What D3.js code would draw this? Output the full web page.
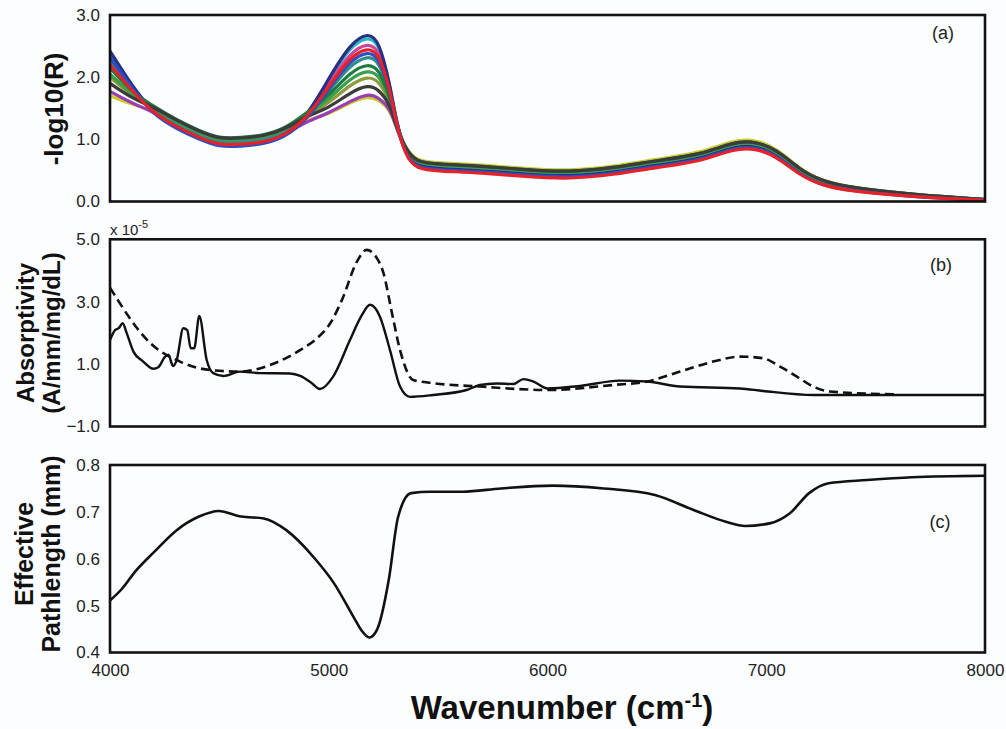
<!DOCTYPE html>
<html><head><meta charset="utf-8">
<script src="https://cdn.jsdelivr.net/npm/d3@7/dist/d3.min.js"></script>
<style>
html,body{margin:0;padding:0;background:#fcfdff;}
svg{display:block;font-family:"Liberation Sans",Arial,sans-serif;}
</style></head><body>
<svg id="chart" width="1006" height="729"></svg>
<script>
// ---------- DATA ----------
const xTicks = [4000, 5000, 6000, 7000, 8000];
const aTicks = [0, 1, 2, 3];
const bTicks = [-1, 1, 3, 5];
const cTicks = [0.4, 0.5, 0.6, 0.7, 0.8];

// Panel (a): wavenumber grid shared by all reflectance spectra
const aWavenumber = [4000,4100,4200,4300,4400,4500,4600,4700,4800,4900,5000,5100,5180,5230,5280,5310,5350,5400,5500,5700,5900,6100,6300,6500,6700,6850,6950,7050,7150,7250,7400,7600,7800,8000];
const spec1  = [1.90,1.66,1.52,1.31,1.14,1.00,1.02,1.05,1.16,1.38,1.50,1.76,1.88,1.80,1.56,1.19,0.85,0.63,0.60,0.57,0.51,0.47,0.54,0.66,0.75,0.96,0.97,0.83,0.52,0.33,0.22,0.14,0.08,0.03];
const spec2  = [2.15,1.76,1.53,1.32,1.15,1.01,1.03,1.06,1.17,1.43,1.70,2.09,2.22,2.13,1.69,1.22,0.85,0.63,0.60,0.57,0.51,0.47,0.54,0.66,0.75,0.96,0.97,0.83,0.52,0.33,0.22,0.14,0.08,0.03];
const spec3  = [1.70,1.56,1.47,1.26,1.09,0.95,0.97,1.00,1.11,1.32,1.40,1.60,1.70,1.63,1.48,1.18,0.87,0.65,0.62,0.59,0.53,0.49,0.56,0.68,0.78,0.99,1.00,0.85,0.53,0.33,0.22,0.14,0.08,0.03];
const spec4  = [1.77,1.58,1.44,1.23,1.06,0.92,0.94,0.97,1.08,1.29,1.42,1.62,1.74,1.67,1.50,1.18,0.80,0.58,0.55,0.52,0.46,0.42,0.49,0.61,0.70,0.91,0.92,0.78,0.47,0.29,0.19,0.12,0.07,0.03];
const spec5  = [2.38,1.84,1.43,1.22,1.05,0.91,0.93,0.96,1.07,1.37,1.95,2.51,2.66,2.55,1.87,1.25,0.81,0.59,0.56,0.53,0.47,0.43,0.50,0.62,0.71,0.92,0.93,0.79,0.48,0.30,0.19,0.12,0.07,0.03];
const spec6  = [2.05,1.72,1.50,1.29,1.12,0.98,1.00,1.03,1.14,1.39,1.64,1.99,2.12,2.04,1.65,1.21,0.83,0.61,0.58,0.55,0.49,0.45,0.52,0.64,0.73,0.94,0.95,0.81,0.50,0.31,0.20,0.13,0.07,0.03];
const spec7  = [2.42,1.86,1.41,1.20,1.03,0.89,0.91,0.94,1.05,1.36,1.98,2.55,2.72,2.59,1.88,1.26,0.78,0.56,0.53,0.50,0.44,0.40,0.47,0.59,0.68,0.89,0.90,0.76,0.46,0.28,0.18,0.11,0.06,0.02];
const spec8  = [2.00,1.70,1.49,1.28,1.11,0.97,0.99,1.02,1.13,1.37,1.58,1.89,2.02,1.94,1.61,1.20,0.84,0.62,0.59,0.56,0.50,0.46,0.53,0.65,0.74,0.95,0.96,0.82,0.51,0.31,0.21,0.13,0.07,0.03];
const spec9  = [2.28,1.80,1.42,1.21,1.04,0.90,0.92,0.95,1.06,1.35,1.89,2.41,2.55,2.45,1.82,1.24,0.77,0.55,0.52,0.49,0.43,0.39,0.46,0.58,0.67,0.88,0.89,0.75,0.45,0.27,0.17,0.11,0.06,0.02];
const spec10 = [2.25,1.79,1.46,1.25,1.08,0.94,0.96,0.99,1.10,1.37,1.77,2.21,2.35,2.26,1.74,1.23,0.82,0.60,0.57,0.54,0.48,0.44,0.51,0.63,0.72,0.93,0.94,0.80,0.49,0.30,0.20,0.12,0.07,0.03];
const spec11 = [2.32,1.82,1.39,1.18,1.01,0.87,0.89,0.92,1.03,1.31,1.81,2.28,2.42,2.32,1.77,1.23,0.76,0.54,0.51,0.48,0.42,0.38,0.45,0.57,0.66,0.87,0.88,0.74,0.44,0.26,0.17,0.10,0.05,0.02];
const spec12 = [2.20,1.78,1.42,1.21,1.04,0.90,0.92,0.95,1.06,1.34,1.85,2.34,2.48,2.38,1.80,1.24,0.74,0.52,0.49,0.46,0.40,0.36,0.43,0.55,0.64,0.85,0.86,0.72,0.43,0.26,0.16,0.10,0.05,0.02];
const aSpectra = [spec3, spec4, spec8, spec5, spec9, spec10, spec7, spec6, spec2, spec1, spec11, spec12];
const aSpectraColors = ["#c8cc2c","#9a3db4","#8f9a3a","#27b5c8","#d0449a","#2f8f86","#2b2f80","#3a9f4a","#1f7a3f","#3b3b3b","#2b4fc6","#e42228"];

// Panel (b): absorptivity (x 1e-5)
const bSolidWn  = [4000,4023,4040,4058,4076,4107,4152,4198,4221,4251,4267,4288,4305,4335,4353,4369,4385,4408,4442,4472,4518,4594,4686,4823,4870,4920,4960,5020,5097,5150,5189,5234,5280,5326,5371,5477,5630,5691,5768,5844,5890,5936,6000,6149,6331,6454,6606,6880,6985,7215,7368,8000];
const bSolidVal = [1.77,2.09,2.15,2.31,2.00,1.40,1.08,0.85,0.90,1.23,1.30,0.94,1.13,2.15,2.09,1.51,1.51,2.54,1.13,0.71,0.62,0.76,0.71,0.70,0.62,0.40,0.20,0.60,1.77,2.55,2.90,2.52,1.45,0.28,-0.05,0.01,0.17,0.33,0.38,0.36,0.52,0.44,0.22,0.30,0.47,0.44,0.28,0.22,0.14,0.01,0.01,0.01];
const bDashWn   = [4000,4183,4320,4457,4594,4731,4869,4950,5006,5060,5130,5173,5215,5250,5290,5326,5386,5477,5691,6000,6300,6454,6606,6757,6880,6985,7063,7140,7215,7291,7600];
const bDashVal  = [3.45,1.68,1.08,0.81,0.76,0.97,1.45,1.85,2.30,3.05,4.30,4.66,4.45,3.92,2.60,1.45,0.49,0.39,0.28,0.17,0.33,0.44,0.76,1.08,1.24,1.19,0.92,0.60,0.28,0.12,0.03];

// Panel (c): effective pathlength (mm)
const cWn  = [4000,4055,4114,4201,4305,4407,4496,4600,4703,4806,4937,5025,5113,5150,5185,5222,5274,5317,5376,5464,5611,5787,6023,6257,6491,6668,6815,6903,7020,7108,7196,7285,7461,7666,8000];
const cVal = [0.511,0.536,0.572,0.614,0.661,0.690,0.702,0.690,0.686,0.661,0.600,0.547,0.476,0.447,0.432,0.450,0.554,0.689,0.740,0.743,0.743,0.750,0.756,0.750,0.736,0.704,0.679,0.670,0.676,0.697,0.740,0.761,0.768,0.774,0.777];

// ---------- DRAW ----------
const svg = d3.select("#chart");
const L = 110, R = 985;
const x = d3.scaleLinear().domain([4000, 8000]).range([L, R]);
const panels = [
  {top: 15,  bottom: 201.5, dom: [0, 3]},
  {top: 239.3, bottom: 426.5, dom: [-1, 5]},
  {top: 465, bottom: 652.5, dom: [0.4, 0.8]}
];
const ya = d3.scaleLinear().domain(panels[0].dom).range([panels[0].bottom, panels[0].top]);
const yb = d3.scaleLinear().domain(panels[1].dom).range([panels[1].bottom, panels[1].top]);
const yc = d3.scaleLinear().domain(panels[2].dom).range([panels[2].bottom, panels[2].top]);

function clip(id, p){
  svg.append("clipPath").attr("id", id).append("rect")
    .attr("x", L).attr("y", p.top - 2).attr("width", R - L).attr("height", p.bottom - p.top + 4);
}
clip("ca", panels[0]); clip("cb", panels[1]); clip("cc", panels[2]);

// Panel a spectra
const lineA = d3.line().x((d,i)=>x(aWavenumber[i])).y(d=>ya(d)).curve(d3.curveBasis);
const ga = svg.append("g").attr("clip-path","url(#ca)");
aSpectra.forEach((s,k)=>{
  ga.append("path").attr("d", lineA(s)).attr("fill","none")
    .attr("stroke", aSpectraColors[k]).attr("stroke-width", 3.2).attr("stroke-linejoin","round");
});

// Panel b
const gb = svg.append("g").attr("clip-path","url(#cb)");
const lineBs = d3.line().x((d,i)=>x(bSolidWn[i])).y(d=>yb(d)).curve(d3.curveMonotoneX);
const lineBd = d3.line().x((d,i)=>x(bDashWn[i])).y(d=>yb(d)).curve(d3.curveMonotoneX);
gb.append("path").attr("d", lineBd(bDashVal)).attr("fill","none").attr("stroke","#111")
  .attr("stroke-width",2.6).attr("stroke-dasharray","9,5");
gb.append("path").attr("d", lineBs(bSolidVal)).attr("fill","none").attr("stroke","#111")
  .attr("stroke-width",2.4).attr("stroke-linejoin","round");

// Panel c
const gc = svg.append("g").attr("clip-path","url(#cc)");
const lineC = d3.line().x((d,i)=>x(cWn[i])).y(d=>yc(d)).curve(d3.curveMonotoneX);
gc.append("path").attr("d", lineC(cVal)).attr("fill","none").attr("stroke","#111").attr("stroke-width",2.6);

// Frames
panels.forEach(p=>{
  svg.append("rect").attr("x", L).attr("y", p.top).attr("width", R - L).attr("height", p.bottom - p.top)
    .attr("fill","none").attr("stroke","#111").attr("stroke-width",2.6);
});

// Y axes (labels only, no tick marks)
function yAxis(scale, ticks, fmt){
  const g = svg.append("g").attr("transform", `translate(${L},0)`)
    .call(d3.axisLeft(scale).tickValues(ticks).tickFormat(fmt).tickSize(0).tickPadding(10));
  g.select(".domain").remove();
  g.selectAll("text").attr("font-size", 17).attr("fill","#222").attr("font-family","Liberation Sans, Arial, sans-serif");
}
yAxis(ya, aTicks, d3.format(".1f"));
yAxis(yb, bTicks, d3.format(".1f"));
yAxis(yc, cTicks, d3.format(".1f"));

// X axis
const gx = svg.append("g").attr("transform", `translate(0,${panels[2].bottom})`)
  .call(d3.axisBottom(x).tickValues(xTicks).tickFormat(d3.format("d")).tickSize(0).tickPadding(11));
gx.select(".domain").remove();
gx.selectAll("text").attr("font-size", 17).attr("fill","#222").attr("font-family","Liberation Sans, Arial, sans-serif");

// multiplier label
const mult = svg.append("text").attr("x", 110).attr("y", 235).attr("font-size", 15).attr("fill","#222");
mult.append("tspan").text("x 10");
mult.append("tspan").attr("dy", -7).attr("font-size", 11).text("-5");

// Panel tags
[["(a)", 39, 943], ["(b)", 271, 941], ["(c)", 528, 940]].forEach(([t, yy, xx])=>{
  svg.append("text").attr("x", xx).attr("y", yy).attr("text-anchor","middle")
    .attr("font-size", 18).attr("fill","#222").text(t);
});

// Y titles
function yTitle(lines, cx, cy, size){
  lines.forEach(([t, dx])=>{
    svg.append("text").attr("transform", `translate(${cx+dx},${cy}) rotate(-90)`)
      .attr("text-anchor","middle").attr("font-size", size).attr("font-weight","bold").attr("fill","#111").text(t);
  });
}
yTitle([["-log10(R)", 0]], 63, 109, 26);
yTitle([["Absorptivity", 0], ["(A/mm/mg/dL)", 26]], 34, 333, 24);
yTitle([["Effective", 0], ["Pathlength (mm)", 27]], 33, 554, 25);

// X title
const xt = svg.append("text").attr("x", 562).attr("y", 719).attr("text-anchor","middle")
  .attr("font-size", 33).attr("font-weight","bold").attr("fill","#111");
xt.append("tspan").text("Wavenumber (cm");
xt.append("tspan").attr("dy", -12).attr("font-size", 20).text("-1");
xt.append("tspan").attr("dy", 12).text(")");
</script>
</body></html>
